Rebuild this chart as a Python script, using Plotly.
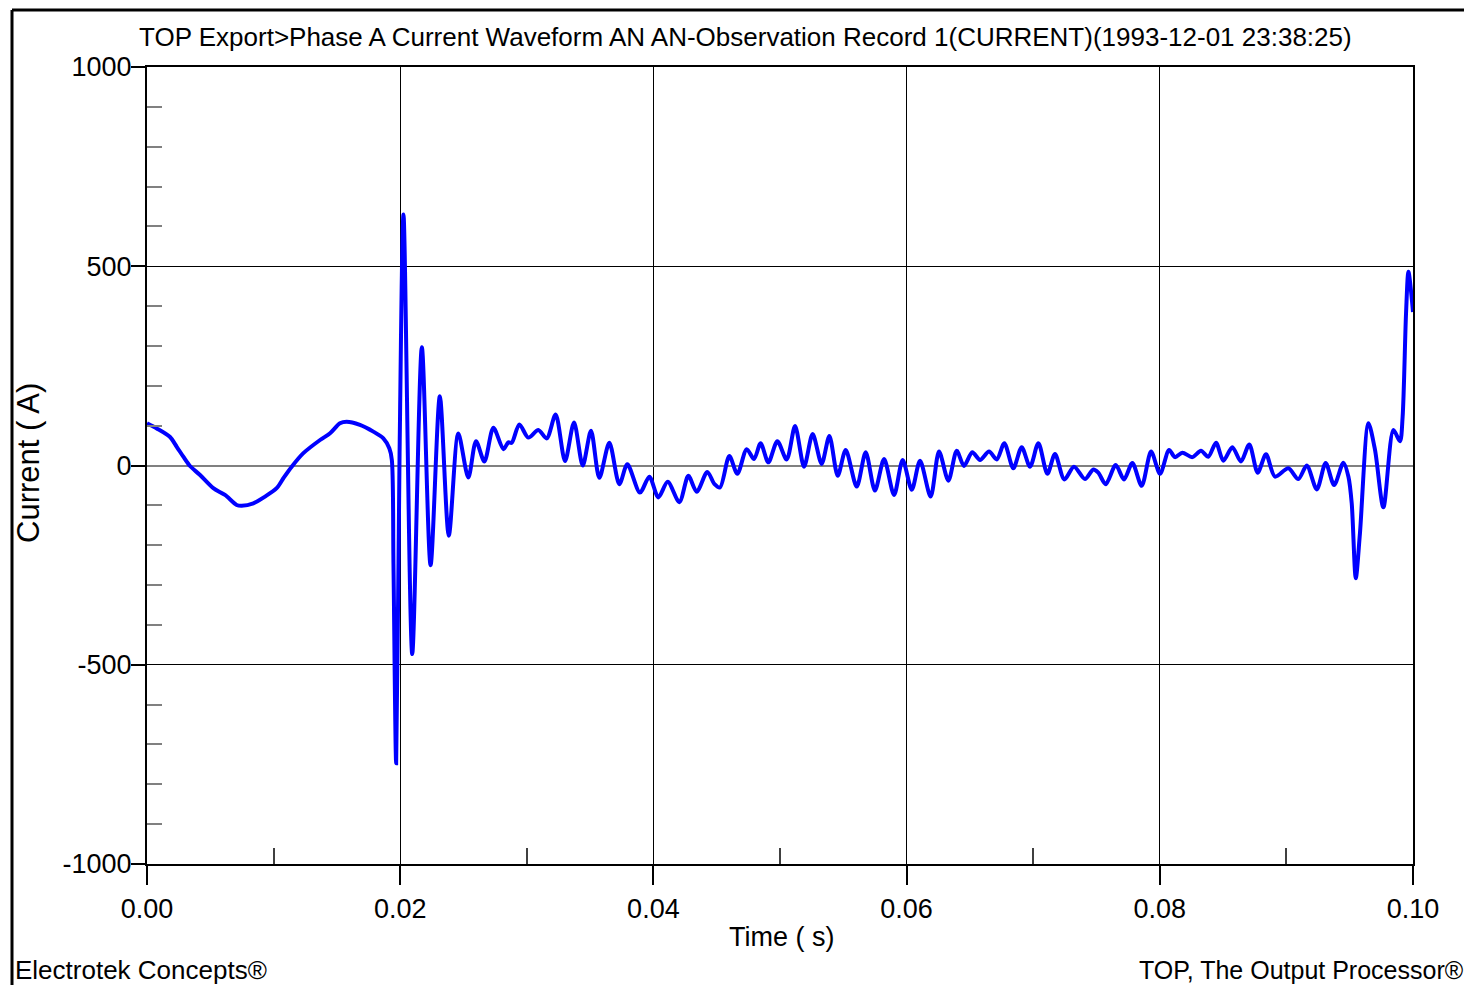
import plotly.graph_objects as go

# Phase A current record, time in seconds and current in amperes
time_s = [
    0.0, 0.00077, 0.0018, 0.00235, 0.00287, 0.00336, 0.00419, 0.00524, 0.00616, 0.00708,
    0.00748, 0.0084, 0.00932, 0.01024, 0.01077, 0.01143, 0.01235, 0.01367, 0.01446, 0.01524,
    0.01577, 0.01682, 0.01788, 0.01867, 0.01914, 0.01934, 0.01947, 0.01968, 0.01995, 0.02026,
    0.02095, 0.02171, 0.0224, 0.02313, 0.02384, 0.02459, 0.02538, 0.02599, 0.02665, 0.02736,
    0.02815, 0.02854, 0.02881, 0.02941, 0.03012, 0.03091, 0.03157, 0.03228, 0.03302, 0.03373,
    0.03442, 0.03507, 0.03573, 0.03652, 0.03731, 0.03794, 0.03894, 0.03968, 0.04039, 0.04113,
    0.04205, 0.04276, 0.04342, 0.04426, 0.04481, 0.04526, 0.046, 0.04663, 0.04737, 0.04795,
    0.04847, 0.04908, 0.04979, 0.05053, 0.05119, 0.0519, 0.05258, 0.05329, 0.0539, 0.05456,
    0.05519, 0.05606, 0.05677, 0.0575, 0.05822, 0.05901, 0.05969, 0.06041, 0.06106, 0.0619,
    0.06256, 0.0633, 0.06396, 0.06453, 0.06519, 0.0658, 0.06651, 0.06712, 0.06772, 0.06843,
    0.06909, 0.06975, 0.07041, 0.07112, 0.07172, 0.07246, 0.07322, 0.07409, 0.07475, 0.07514,
    0.07573, 0.07652, 0.07717, 0.07783, 0.07857, 0.07931, 0.08002, 0.08073, 0.0812, 0.08178,
    0.08257, 0.08325, 0.08383, 0.08444, 0.08502, 0.08573, 0.08641, 0.08707, 0.08773, 0.08839,
    0.0891, 0.09015, 0.09094, 0.09161, 0.0924, 0.0931, 0.09377, 0.0945, 0.0949, 0.09516,
    0.09548, 0.09581, 0.09648, 0.097, 0.09766, 0.09845, 0.09897, 0.09918, 0.09945, 0.09964,
    0.1,
]
current_a = [
    106, 93, 72, 47, 22, 0, -24, -57, -74, -99,
    -101, -95, -78, -57, -32, -3, 31, 64, 81, 106,
    110, 102, 85, 68, 43, 14, -252, -747, 31, 630,
    -473, 297, -250, 174, -176, 80, -30, 61, 10, 95,
    41, 58, 57, 103, 70, 89, 68, 128, 11, 108,
    0, 87, -31, 57, -47, 3, -68, -28, -80, -41,
    -92, -26, -66, -16, -46, -55, 24, -21, 41, 16,
    56, 8, 61, 15, 99, -3, 79, 4, 74, -26,
    39, -53, 33, -63, 16, -74, 14, -61, 12, -78,
    35, -38, 37, -1, 33, 14, 35, 15, 56, -7,
    46, -3, 56, -21, 29, -35, -3, -34, -10, -18,
    -47, 1, -35, 6, -51, 35, -21, 39, 21, 32,
    21, 37, 22, 57, 12, 46, 10, 53, -18, 28,
    -28, -7, -34, 0, -60, 6, -49, 7, -28, -95,
    -283, -170, 106, 39, -105, 89, 61, 122, 382, 486,
    385,
]

x_ticks = [0.0, 0.02, 0.04, 0.06, 0.08, 0.10]
x_tick_text = ["0.00", "0.02", "0.04", "0.06", "0.08", "0.10"]
x_minor = [0.01, 0.03, 0.05, 0.07, 0.09]
y_ticks = [-1000, -500, 0, 500, 1000]
y_tick_text = ["-1000", "-500", "0", "500", "1000"]
y_minor = [v for v in range(-900, 1000, 100) if v % 500 != 0]

FONT = "Liberation Sans, Arial, sans-serif"

fig = go.Figure()
fig.add_trace(go.Scatter(
    x=time_s, y=current_a, mode="lines",
    line=dict(color="#0000ff", width=4, shape="spline", smoothing=0.8),
    hoverinfo="x+y", showlegend=False,
))

fig.update_layout(
    width=1464, height=985,
    margin=dict(l=147, r=51, t=67, b=121),
    paper_bgcolor="white", plot_bgcolor="white",
    font=dict(family=FONT, size=27, color="black"),
    xaxis=dict(
        range=[0, 0.1], tickvals=x_ticks, ticktext=x_tick_text,
        ticks="outside", ticklen=19, tickwidth=1.5, tickcolor="black",
        ticklabelstandoff=1,
        showgrid=True, gridcolor="black", gridwidth=1,
        showline=True, linecolor="black", linewidth=2, mirror=True,
        zeroline=False,
        minor=dict(tickvals=x_minor, ticks="inside", ticklen=16,
                   tickwidth=1.5, tickcolor="#404040", showgrid=False),
    ),
    yaxis=dict(
        range=[-1000, 1000], tickvals=y_ticks, ticktext=y_tick_text,
        ticks="outside", ticklen=14, tickwidth=1.5, tickcolor="black",
        ticklabelstandoff=-6,
        showgrid=True, gridcolor="black", gridwidth=1,
        showline=True, linecolor="black", linewidth=2, mirror=True,
        zeroline=True, zerolinecolor="#808080", zerolinewidth=2,
        minor=dict(tickvals=y_minor, ticks="inside", ticklen=15,
                   tickwidth=1.5, tickcolor="#808080", showgrid=False),
    ),
)

def px_x(p):
    return (p - 147) / 1266

def px_y(p):
    return (864 - p) / 797

annotations = [
    dict(text="TOP Export>Phase A Current Waveform AN AN-Observation Record 1(CURRENT)(1993-12-01 23:38:25)",
         x=px_x(745), y=px_y(37), xanchor="center", yanchor="middle", font=dict(size=26)),
    dict(text="Current ( A)", x=px_x(28), y=px_y(463), xanchor="center", yanchor="middle",
         textangle=-90, font=dict(size=31)),
    dict(text="Time ( s)", x=px_x(781), y=px_y(937), xanchor="center", yanchor="middle",
         font=dict(size=27)),
    dict(text="Electrotek Concepts®", x=px_x(13), y=px_y(970), xanchor="left", yanchor="middle",
         font=dict(size=26)),
    dict(text="TOP, The Output Processor®", x=px_x(1137), y=px_y(970), xanchor="left",
         yanchor="middle", font=dict(size=25)),
]
for a in annotations:
    a.update(xref="paper", yref="paper", showarrow=False)
fig.update_layout(annotations=annotations)

# outer frame (top and left edges visible)
fig.add_shape(type="line", xref="paper", yref="paper",
              x0=px_x(12), y0=px_y(10), x1=px_x(1470), y1=px_y(10),
              line=dict(color="black", width=3))
fig.add_shape(type="line", xref="paper", yref="paper",
              x0=px_x(12), y0=px_y(10), x1=px_x(12), y1=px_y(995),
              line=dict(color="black", width=3))

fig.write_html("out.html")
